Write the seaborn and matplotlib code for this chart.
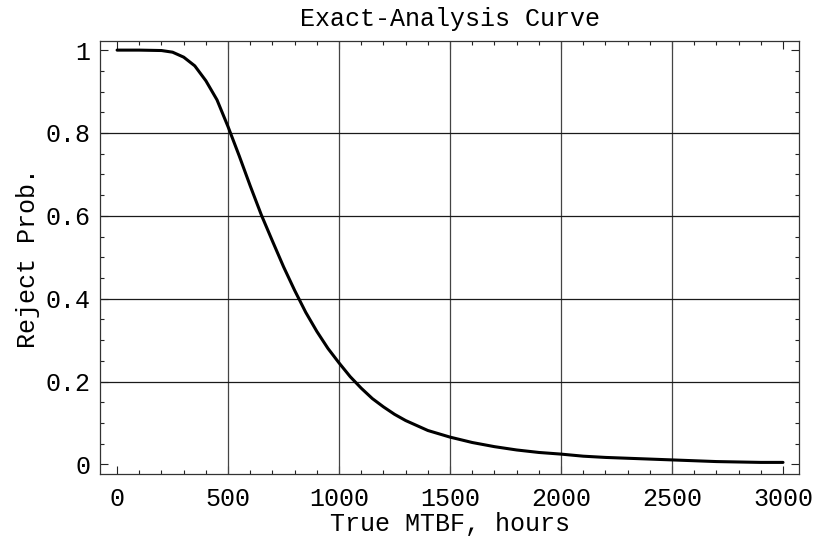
import numpy as np
import pandas as pd
import matplotlib
matplotlib.use("Agg")
import matplotlib.pyplot as plt
import seaborn as sns
from matplotlib.ticker import MultipleLocator, FuncFormatter

# ---- data ----
mtbf_hours = [0, 100, 200, 250, 300, 350, 400, 450, 500, 550, 600, 650, 700, 750,
              800, 850, 900, 950, 1000, 1050, 1100, 1150, 1200, 1250, 1300, 1400,
              1500, 1600, 1700, 1800, 1900, 2000, 2100, 2200, 2300, 2400, 2500,
              2600, 2700, 2800, 2900, 3000]
reject_prob = [1.0, 1.0, 0.999, 0.995, 0.983, 0.962, 0.926, 0.880, 0.815, 0.745,
               0.672, 0.602, 0.539, 0.477, 0.420, 0.367, 0.321, 0.280, 0.245,
               0.212, 0.184, 0.159, 0.139, 0.121, 0.106, 0.082, 0.066, 0.053,
               0.043, 0.035, 0.029, 0.025, 0.020, 0.017, 0.015, 0.013, 0.011,
               0.009, 0.007, 0.006, 0.005, 0.005]
x_major_ticks = [0, 500, 1000, 1500, 2000, 2500, 3000]
y_major_ticks = [0, 0.2, 0.4, 0.6, 0.8, 1.0]
x_grid = [500, 1000, 1500, 2000, 2500]
y_grid = [0.2, 0.4, 0.6, 0.8]

title = "Exact-Analysis Curve"
xlabel = "True MTBF, hours"
ylabel = "Reject Prob."

df = pd.DataFrame({"mtbf": mtbf_hours, "prob": reject_prob})

sns.set_theme(style="ticks")
plt.rcParams["font.family"] = ["Liberation Mono", "DejaVu Sans Mono"]
plt.rcParams["font.size"] = 18

fig = plt.figure(figsize=(8.15, 5.38), dpi=100)
ax = fig.add_axes([100 / 815, 1 - 474 / 538, 699 / 815, 433 / 538])

for gx in x_grid:
    ax.axvline(gx, color="#444444", lw=0.9, zorder=1)
for gy in y_grid:
    ax.axhline(gy, color="#1a1a1a", lw=0.9, zorder=1)

sns.lineplot(data=df, x="mtbf", y="prob", ax=ax, color="black", lw=2.2, zorder=3)

ax.set_xlim(-77, 3072)
ax.set_ylim(-0.023, 1.022)

ax.set_xticks(x_major_ticks)
ax.set_yticks(y_major_ticks)
ax.xaxis.set_minor_locator(MultipleLocator(100))
ax.yaxis.set_minor_locator(MultipleLocator(0.05))
ax.xaxis.set_major_formatter(FuncFormatter(lambda v, p: f"{v:g}"))
ax.yaxis.set_major_formatter(FuncFormatter(lambda v, p: f"{v:g}"))

ax.tick_params(which="both", direction="in", top=True, right=True,
               color="#222222", width=0.8, labelsize=18, labelcolor="black")
ax.tick_params(which="major", length=6)
ax.tick_params(which="minor", length=3)
ax.tick_params(axis="x", pad=9)
ax.tick_params(axis="y", pad=7)

for s in ax.spines.values():
    s.set_color("#333333")
    s.set_linewidth(0.9)

ax.set_title(title, fontsize=18, pad=11, color="black")
ax.set_xlabel(xlabel, fontsize=18, labelpad=1, color="black")
ax.set_ylabel(ylabel, fontsize=18, labelpad=4, color="black")

fig.savefig("out.png", dpi=100, facecolor="white")
